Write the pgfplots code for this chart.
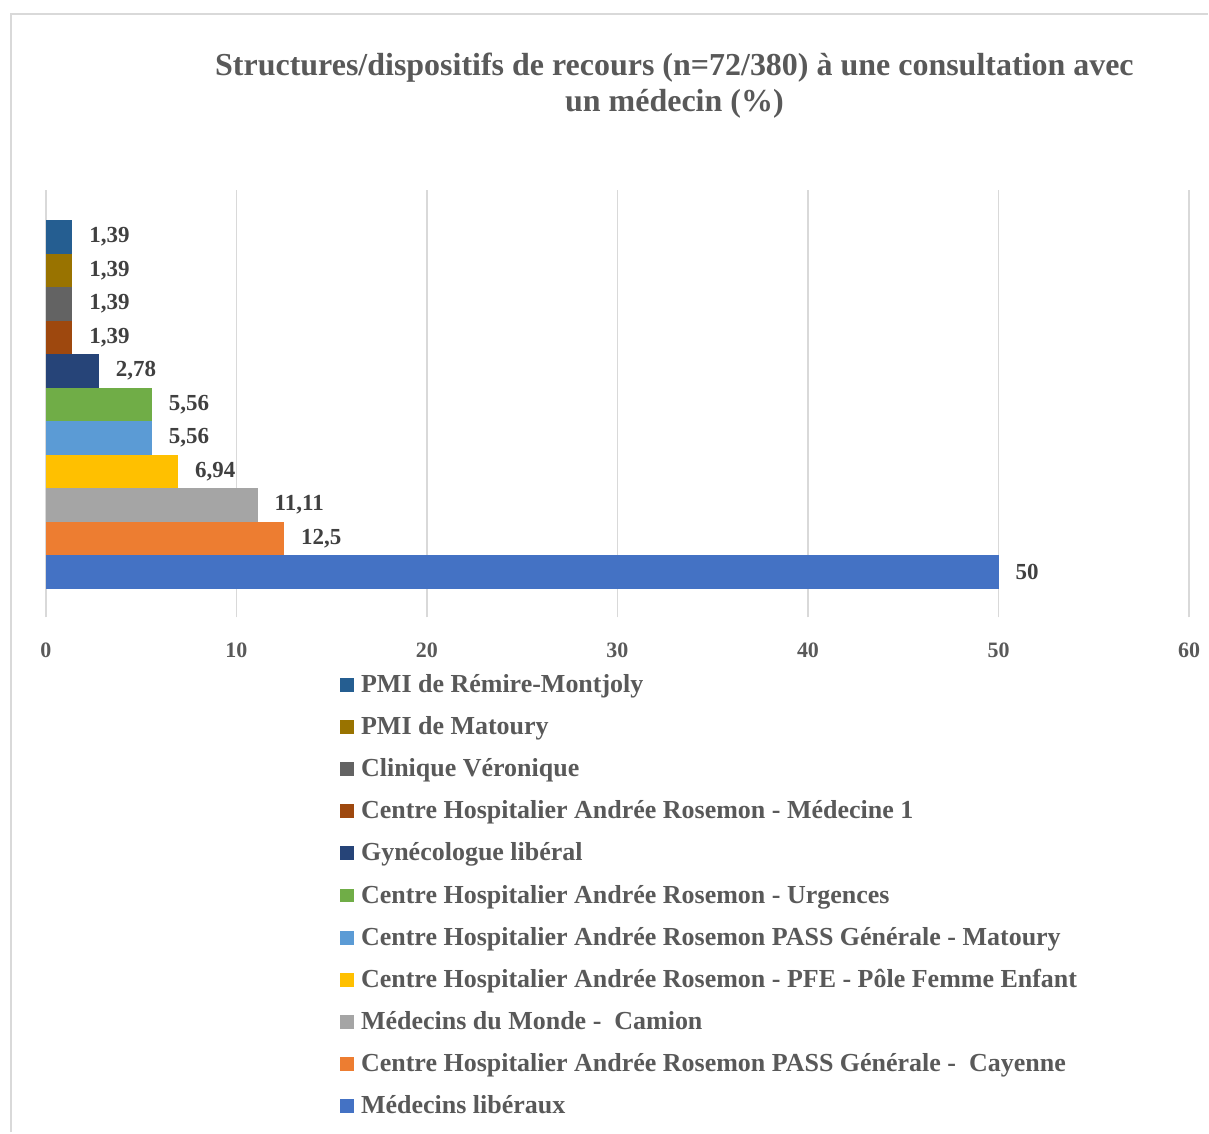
\documentclass[border=0pt]{standalone}
\usepackage{pgfplots}
\pgfplotsset{compat=1.18}
\usepackage{fontspec}
\setmainfont{Liberation Serif}
\definecolor{s1}{HTML}{4472C4}
\definecolor{s2}{HTML}{ED7D31}
\definecolor{s3}{HTML}{A5A5A5}
\definecolor{s4}{HTML}{FFC000}
\definecolor{s5}{HTML}{5B9BD5}
\definecolor{s6}{HTML}{70AD47}
\definecolor{s7}{HTML}{264478}
\definecolor{s8}{HTML}{9E480E}
\definecolor{s9}{HTML}{636363}
\definecolor{s10}{HTML}{997300}
\definecolor{s11}{HTML}{255E91}
\definecolor{txt}{HTML}{595959}
\definecolor{lbl}{HTML}{404040}
\definecolor{grd}{HTML}{D9D9D9}
\begin{document}
\begin{tikzpicture}
\begin{axis}[
    name=ax,
    xbar, bar shift=0pt, bar width=1,
    scale only axis,
    width=572pt, height=214pt,
    xmin=0, xmax=60, ymin=-0.36, ymax=12.4,
    xtick distance=10,
    ytick=\empty,
    axis line style={draw=none},
    major tick length=0pt,
    xmajorgrids=true,
    grid style={grd, line width=0.75pt},
    xticklabel style={font=\bfseries\fontsize{11}{13}\selectfont, text=txt, yshift=-9pt},
    /pgf/number format/assume math mode=true,
    /pgf/number format/use comma,
    nodes near coords,
    nodes near coords style={font=\bfseries\fontsize{11.5}{13}\selectfont, text=lbl, anchor=west, xshift=5pt},
    reverse legend,
    legend cell align=left,
    legend style={at={(rel axis cs:0,0)}, anchor=north west, xshift=147pt, yshift=-26.5pt,
        draw=none, fill=none, font=\bfseries\fontsize{13}{15}\selectfont, text=txt,
        row sep=6.5pt, inner sep=0pt},
    legend image code/.code={\fill[#1] (0pt,-3.5pt) rectangle (7pt,3.5pt); \path (8.5pt,0pt);},
]
\addplot[fill=s1, draw=none] coordinates {(50,1)};
\addlegendentry{Médecins libéraux}
\addplot[fill=s2, draw=none] coordinates {(12.5,2)};
\addlegendentry{Centre Hospitalier Andrée Rosemon PASS Générale -~ Cayenne}
\addplot[fill=s3, draw=none] coordinates {(11.11,3)};
\addlegendentry{Médecins du Monde -~ Camion}
\addplot[fill=s4, draw=none] coordinates {(6.94,4)};
\addlegendentry{Centre Hospitalier Andrée Rosemon - PFE - Pôle Femme Enfant}
\addplot[fill=s5, draw=none] coordinates {(5.56,5)};
\addlegendentry{Centre Hospitalier Andrée Rosemon PASS Générale - Matoury}
\addplot[fill=s6, draw=none] coordinates {(5.56,6)};
\addlegendentry{Centre Hospitalier Andrée Rosemon - Urgences}
\addplot[fill=s7, draw=none] coordinates {(2.78,7)};
\addlegendentry{Gynécologue libéral}
\addplot[fill=s8, draw=none] coordinates {(1.39,8)};
\addlegendentry{Centre Hospitalier Andrée Rosemon - Médecine 1}
\addplot[fill=s9, draw=none] coordinates {(1.39,9)};
\addlegendentry{Clinique Véronique}
\addplot[fill=s10, draw=none] coordinates {(1.39,10)};
\addlegendentry{PMI de Matoury}
\addplot[fill=s11, draw=none] coordinates {(1.39,11)};
\addlegendentry{PMI de Rémire-Montjoly}
\end{axis}
% title
\node[font=\bfseries\fontsize{16}{18}\selectfont, text=txt, align=center, anchor=north]
  at ([xshift=314.5pt, yshift=72pt]ax.north west)
  {Structures/dispositifs de recours (n=72/380) à une consultation avec\\ un médecin (\%)};
% chart frame
\draw[grd, line width=1pt] ([xshift=-17.5pt, yshift=-257.5pt]ax.south west) -- ([xshift=-17.5pt, yshift=88pt]ax.north west) -- ([xshift=581.5pt, yshift=88pt]ax.north west);
% page extent
\path ([xshift=-23pt, yshift=-257.5pt]ax.south west) rectangle ([xshift=581.5pt, yshift=95pt]ax.north west);
\end{tikzpicture}
\end{document}
